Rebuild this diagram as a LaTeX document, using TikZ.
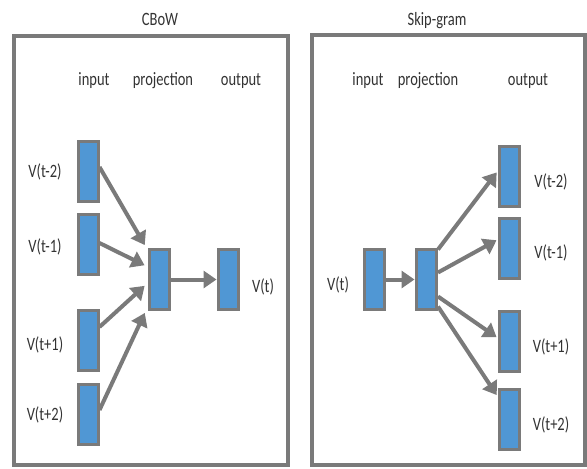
\documentclass[tikz,border=0pt]{standalone}
\usepackage{fontspec}
\setmainfont{Carlito}
\usetikzlibrary{arrows.meta,calc}
\definecolor{boxblue}{HTML}{5097D4}
\definecolor{framegray}{HTML}{7A7A7A}
\tikzset{
  vec/.style={draw=framegray, fill=boxblue, line width=3pt, minimum width=20pt, minimum height=60pt, inner sep=0pt},
  frame/.style={draw=framegray, line width=4.5pt},
  lbl/.style={anchor=base, inner sep=0pt, font=\fontsize{14.5}{16}\selectfont, text=black!80},
  conn/.style={draw=framegray, line width=4pt, -{Triangle[length=13pt,width=17pt]}, shorten >=0.5pt}
}
\newcommand{\tall}[1]{\scalebox{1}[1.3]{#1}}
\begin{document}
\begin{tikzpicture}[x=1pt,y=-1pt]
\useasboundingbox (0,0) rectangle (587,469);
% frames
\draw[frame] (14,36) rectangle (288,465);
\draw[frame] (312,35) rectangle (585,465);
% titles
\node[lbl] (t1) at (160,25) {\tall{CBoW}};
\node[lbl] (t2) at (437,25) {\tall{Skip-gram}};
% column headings
\node[lbl] (h1) at (94,85) {\tall{input}};
\node[lbl] (h2) at (163,85) {\tall{projection}};
\node[lbl] (h3) at (241,85) {\tall{output}};
\node[lbl] (h4) at (368,85) {\tall{input}};
\node[lbl] (h5) at (428,85) {\tall{projection}};
\node[lbl] (h6) at (528,85) {\tall{output}};
% CBoW boxes
\node[vec] (a1) at (88,171) {};
\node[vec] (a2) at (88,244) {};
\node[vec] (a3) at (88,340) {};
\node[vec] (a4) at (88,414) {};
\node[vec] (ap) at (159.5,279.5) {};
\node[vec] (ao) at (228.5,279.5) {};
% CBoW labels
\node[lbl] (la1) at (45,177) {\tall{V(t-2)}};
\node[lbl] (la2) at (45,252) {\tall{V(t-1)}};
\node[lbl] (la3) at (45,350) {\tall{V(t+1)}};
\node[lbl] (la4) at (45,420) {\tall{V(t+2)}};
\node[lbl] (lao) at (263,292) {\tall{V(t)}};
% CBoW arrows
\draw[conn] ($(a1.east)+(0,-4)$) -- ($(ap.west)+(-3,-34)$);
\draw[conn] ($(a2.east)+(0,-1)$) -- ($(ap.west)+(-3,-14)$);
\draw[conn] ($(a3.east)+(0,-13)$) -- ($(ap.west)+(-3,6)$);
\draw[conn] ($(a4.east)+(0,-4)$) -- ($(ap.west)+(-3,33)$);
\draw[conn] (ap.east) -- (ao.west);
% Skip-gram boxes
\node[vec] (bi) at (374.5,279.5) {};
\node[vec] (bp) at (426.5,279.5) {};
\node[vec] (b1) at (509.5,176) {};
\node[vec] (b2) at (509.5,248) {};
\node[vec] (b3) at (509.5,341.5) {};
\node[vec] (b4) at (509.5,419.5) {};
% Skip-gram labels
\node[lbl] (lbi) at (338,290) {\tall{V(t)}};
\node[lbl] (lb1) at (551,187) {\tall{V(t-2)}};
\node[lbl] (lb2) at (551,258) {\tall{V(t-1)}};
\node[lbl] (lb3) at (551,352) {\tall{V(t+1)}};
\node[lbl] (lb4) at (551,430) {\tall{V(t+2)}};
% Skip-gram arrows
\draw[conn] (bi.east) -- (bp.west);
\draw[conn] ($(bp.east)+(0,-30)$) -- ($(b1.west)+(-1,-4)$);
\draw[conn] ($(bp.east)+(0,-7)$) -- ($(b2.west)+(-1,-8)$);
\draw[conn] ($(bp.east)+(0,17)$) -- ($(b3.west)+(-1,-4)$);
\draw[conn] ($(bp.east)+(0,27)$) -- ($(b4.west)+(-1,-24)$);
\end{tikzpicture}
\end{document}
